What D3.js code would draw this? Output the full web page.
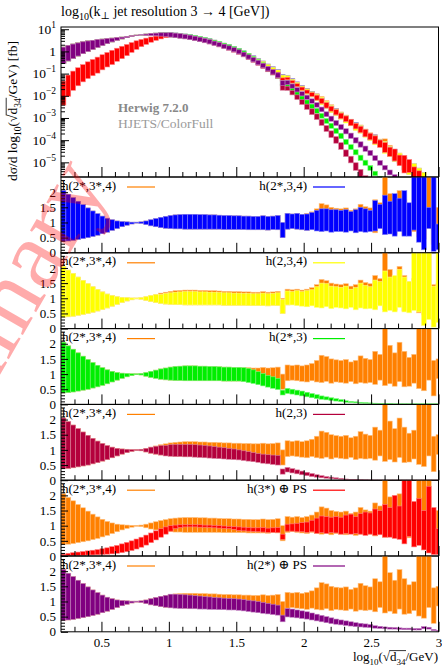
<!DOCTYPE html>
<html>
<head>
<meta charset="utf-8">
<script src="https://cdn.jsdelivr.net/npm/d3@7"></script>
<style>
  html, body { margin: 0; padding: 0; background: #fff; }
  svg { display: block; }
  text { font-family: "Liberation Serif", "DejaVu Serif", serif; fill: #000; }
</style>
</head>
<body>
<svg id="chart" width="442" height="667"></svg>
<script>
// ---- binning: 100 uniform bins from 0.2 to log10(6500), shown up to 3.0 ----
const binStart = 0.2;
const binWidth = 0.036129;
const nBins = 78;

// log10 of the central h(2*,3*,4) cross section per bin [fb]
const refLog = [-0.12,-0.02,0.07,0.15,0.23,0.30,0.36,0.42,0.47,0.52,
  0.56,0.60,0.63,0.66,0.70,0.73,0.75,0.76,0.77,0.77,
  0.77,0.76,0.75,0.73,0.71,0.68,0.65,0.61,0.57,0.52,
  0.47,0.41,0.35,0.28,0.21,0.13,0.04,-0.06,-0.17,-0.28,
  -0.40,-0.52,-0.65,-0.78,-0.91,-1.05,-1.19,-1.34,-1.49,-1.65,
  -1.79,-1.93,-2.07,-2.24,-2.42,-2.58,-2.74,-2.89,-3.04,-3.20,
  -3.36,-3.52,-3.68,-3.84,-4.00,-4.17,-4.34,-4.52,-4.70,-4.89,
  -5.08,-5.27,-5.46,-5.66,-5.86,-6.07,-6.28,-6.50];

// uncertainty bands (lower / upper edge), as ratio to the central h(2*,3*,4) value
const orangeHi = [2.05,1.93,1.82,1.70,1.59,1.48,1.38,1.29,1.21,1.14,
  1.09,1.05,1.03,1.02,1.01,1.01,1.02,1.05,1.09,1.13,
  1.17,1.20,1.23,1.25,1.26,1.27,1.27,1.27,1.26,1.26,
  1.25,1.25,1.24,1.23,1.23,1.22,1.22,1.21,1.21,1.20,
  1.20,1.22,1.20,1.21,1.23,1.00,1.30,1.28,1.30,1.27,
  1.30,1.35,1.45,1.62,1.58,1.50,1.47,1.45,1.48,1.40,
  1.45,1.60,1.52,1.48,1.75,1.65,2.50,1.95,1.70,2.05,
  1.75,1.55,1.65,2.50,2.50,2.50,1.45,1.50];
const orangeLo = [0.38,0.39,0.41,0.44,0.47,0.50,0.54,0.58,0.63,0.68,
  0.74,0.80,0.86,0.91,0.95,0.98,0.97,0.93,0.89,0.86,
  0.83,0.81,0.80,0.79,0.79,0.78,0.78,0.78,0.78,0.78,
  0.78,0.78,0.78,0.77,0.77,0.77,0.77,0.77,0.76,0.76,
  0.76,0.76,0.75,0.77,0.76,0.50,0.78,0.80,0.78,0.76,
  0.74,0.78,0.74,0.72,0.76,0.70,0.74,0.72,0.70,0.75,
  0.68,0.72,0.70,0.72,0.66,0.80,0.62,0.68,0.60,0.75,
  0.58,0.60,0.70,0.52,0.45,0.80,0.28,0.85];

const blueHi = [2.05,1.93,1.82,1.70,1.59,1.48,1.38,1.29,1.21,1.14,
  1.09,1.05,1.03,1.02,1.01,1.01,1.02,1.05,1.09,1.13,
  1.17,1.20,1.23,1.25,1.26,1.27,1.27,1.27,1.26,1.26,
  1.25,1.25,1.24,1.23,1.23,1.22,1.22,1.21,1.21,1.20,
  1.20,1.22,1.20,1.21,1.23,1.00,1.30,1.28,1.30,1.27,
  1.28,1.33,1.40,1.45,1.45,1.42,1.42,1.40,1.42,1.36,
  1.42,1.50,1.45,1.40,1.72,1.60,1.90,1.70,1.95,1.80,
  2.05,1.65,2.50,2.50,2.50,1.50,2.50,0.95];
const blueLo = [0.38,0.39,0.41,0.44,0.47,0.50,0.54,0.58,0.63,0.68,
  0.74,0.80,0.86,0.91,0.95,0.98,0.97,0.93,0.89,0.86,
  0.83,0.81,0.80,0.79,0.79,0.78,0.78,0.78,0.78,0.78,
  0.78,0.78,0.78,0.77,0.77,0.77,0.77,0.77,0.76,0.76,
  0.76,0.76,0.75,0.77,0.76,0.50,0.78,0.80,0.78,0.76,
  0.74,0.76,0.72,0.70,0.72,0.68,0.70,0.70,0.68,0.72,
  0.66,0.70,0.68,0.70,0.72,0.80,0.60,0.62,0.55,0.70,
  0.55,0.55,0.75,0.35,0.10,0.80,0.05,0.10];

const yellowHi = [2.05,1.93,1.82,1.70,1.59,1.48,1.38,1.29,1.21,1.14,
  1.09,1.05,1.03,1.02,1.01,1.01,1.02,1.05,1.09,1.12,
  1.13,1.16,1.18,1.20,1.21,1.22,1.22,1.22,1.21,1.21,
  1.20,1.20,1.19,1.18,1.18,1.17,1.17,1.16,1.16,1.15,
  1.15,1.17,1.15,1.16,1.18,0.96,1.24,1.22,1.25,1.22,
  1.25,1.28,1.38,1.50,1.48,1.40,1.38,1.36,1.40,1.30,
  1.35,1.50,1.42,1.38,1.60,1.55,1.90,1.70,1.75,1.95,
  1.70,1.55,2.50,2.50,2.50,2.50,1.40,2.50];
const yellowLo = [0.38,0.39,0.41,0.44,0.47,0.50,0.54,0.58,0.63,0.68,
  0.74,0.80,0.86,0.91,0.95,0.98,0.97,0.93,0.89,0.86,
  0.83,0.81,0.80,0.79,0.79,0.78,0.78,0.78,0.78,0.78,
  0.78,0.78,0.78,0.77,0.77,0.77,0.77,0.77,0.76,0.76,
  0.76,0.76,0.75,0.77,0.76,0.50,0.78,0.78,0.76,0.74,
  0.72,0.75,0.70,0.68,0.72,0.66,0.70,0.68,0.65,0.70,
  0.62,0.68,0.65,0.66,0.62,0.75,0.55,0.60,0.55,0.70,
  0.55,0.52,0.60,0.55,0.10,0.30,0.05,0.20];

const greenHi = [2.05,1.93,1.82,1.70,1.59,1.48,1.38,1.29,1.21,1.14,
  1.09,1.05,1.03,1.02,1.01,1.01,1.02,1.05,1.09,1.13,
  1.17,1.20,1.23,1.25,1.26,1.27,1.27,1.27,1.26,1.26,
  1.25,1.25,1.24,1.23,1.23,1.22,1.22,1.21,1.19,1.14,
  1.08,1.02,0.96,0.91,0.86,0.47,0.53,0.50,0.47,0.44,
  0.40,0.36,0.32,0.28,0.25,0.22,0.19,0.16,0.12,0.10,
  0.085,0.07,0.06,0.05,0.04,0.035,0.03,0.025,0.02,0.02,
  0.02,0.02,0.02,0.02,0.02,0.02,0.02,0.02];
const greenLo = [0.38,0.39,0.41,0.44,0.47,0.50,0.54,0.58,0.63,0.68,
  0.74,0.80,0.86,0.91,0.95,0.98,0.97,0.93,0.89,0.86,
  0.83,0.81,0.80,0.79,0.79,0.78,0.78,0.78,0.78,0.78,
  0.78,0.78,0.78,0.77,0.77,0.77,0.77,0.75,0.72,0.69,
  0.65,0.61,0.57,0.53,0.49,0.31,0.36,0.34,0.31,0.28,
  0.25,0.22,0.19,0.17,0.15,0.13,0.11,0.09,0.07,0.06,
  0.05,0.04,0.035,0.03,0.025,0.02,0.018,0.015,0.012,0.01,
  0.01,0.01,0.01,0.01,0.01,0.01,0.01,0.01];

const crimsonHi = [2.05,1.93,1.82,1.70,1.59,1.48,1.38,1.29,1.21,1.14,
  1.09,1.05,1.03,1.02,1.01,1.01,1.02,1.05,1.09,1.12,
  1.14,1.15,1.17,1.18,1.18,1.18,1.18,1.17,1.16,1.15,
  1.13,1.11,1.09,1.07,1.05,1.03,1.00,0.97,0.94,0.91,
  0.88,0.86,0.84,0.83,0.82,0.37,0.42,0.38,0.34,0.30,
  0.26,0.22,0.18,0.15,0.12,0.10,0.08,0.06,0.04,0.03,
  0.022,0.016,0.012,0.009,0.007,0.006,0.005,0.005,0.005,0.005,
  0.005,0.005,0.005,0.005,0.005,0.005,0.005,0.005];
const crimsonLo = [0.38,0.39,0.41,0.44,0.47,0.50,0.54,0.58,0.63,0.68,
  0.74,0.80,0.86,0.91,0.95,0.98,0.97,0.93,0.89,0.86,
  0.83,0.80,0.79,0.78,0.78,0.77,0.77,0.76,0.75,0.74,
  0.73,0.72,0.71,0.70,0.69,0.68,0.67,0.65,0.63,0.61,
  0.59,0.56,0.54,0.52,0.50,0.20,0.27,0.24,0.21,0.18,
  0.15,0.12,0.10,0.08,0.065,0.05,0.04,0.03,0.02,0.015,
  0.01,0.007,0.005,0.004,0.003,0.003,0.002,0.002,0.002,0.002,
  0.002,0.002,0.002,0.002,0.002,0.002,0.002,0.002];

const redHi = [0.06,0.09,0.11,0.13,0.15,0.17,0.19,0.21,0.24,0.27,
  0.31,0.35,0.40,0.45,0.50,0.56,0.62,0.69,0.76,0.83,
  0.90,0.96,1.00,1.02,1.03,1.03,1.03,1.03,1.03,1.02,
  1.02,1.01,1.00,0.99,0.98,0.97,0.96,0.95,0.94,0.93,
  0.93,0.94,0.92,0.93,0.94,0.72,1.05,1.06,1.08,1.10,
  1.12,1.18,1.25,1.32,1.30,1.28,1.30,1.28,1.35,1.38,
  1.30,1.40,1.45,1.42,1.55,1.50,1.70,1.60,2.00,1.65,
  2.50,2.50,1.80,1.90,1.50,2.30,1.60,0.90];
const redLo = [0.005,0.01,0.015,0.02,0.025,0.03,0.035,0.04,0.05,0.06,
  0.07,0.09,0.11,0.14,0.18,0.23,0.29,0.36,0.44,0.53,
  0.62,0.72,0.82,0.90,0.94,0.96,0.96,0.96,0.95,0.95,
  0.94,0.93,0.92,0.91,0.90,0.88,0.84,0.83,0.82,0.81,
  0.80,0.79,0.78,0.78,0.77,0.55,0.82,0.82,0.80,0.80,
  0.78,0.80,0.75,0.77,0.74,0.77,0.76,0.72,0.75,0.72,
  0.74,0.72,0.68,0.72,0.68,0.70,0.62,0.62,0.58,0.55,
  0.40,0.65,0.30,0.35,0.20,0.10,0.05,0.05];

const purpleHi = [2.05,1.93,1.82,1.70,1.59,1.48,1.38,1.29,1.21,1.14,
  1.09,1.05,1.03,1.02,1.01,1.01,1.02,1.05,1.09,1.13,
  1.17,1.20,1.24,1.24,1.23,1.22,1.21,1.19,1.18,1.16,
  1.15,1.13,1.12,1.11,1.10,1.09,1.08,1.06,1.04,1.02,
  1.00,0.97,0.94,0.91,0.88,0.55,0.77,0.75,0.72,0.69,
  0.66,0.62,0.58,0.54,0.50,0.46,0.42,0.39,0.36,0.33,
  0.30,0.28,0.26,0.24,0.20,0.18,0.16,0.15,0.14,0.13,
  0.12,0.12,0.11,0.11,0.17,0.15,0.08,0.05];
const purpleLo = [0.38,0.39,0.41,0.44,0.47,0.50,0.54,0.58,0.63,0.68,
  0.74,0.80,0.86,0.91,0.95,0.98,0.97,0.93,0.89,0.86,
  0.83,0.81,0.79,0.78,0.77,0.77,0.76,0.76,0.75,0.75,
  0.74,0.74,0.73,0.73,0.72,0.72,0.71,0.69,0.67,0.65,
  0.63,0.61,0.59,0.57,0.55,0.33,0.49,0.48,0.46,0.44,
  0.42,0.39,0.36,0.33,0.30,0.27,0.25,0.23,0.21,0.19,
  0.17,0.16,0.15,0.14,0.12,0.11,0.10,0.09,0.09,0.08,
  0.07,0.07,0.06,0.06,0.10,0.09,0.04,0.02];

const seriesNames = ["h(2*,3*,4)", "h(2*,3,4)", "h(2,3,4)", "h(2*,3)", "h(2,3)", "h(3*) \u2295 PS", "h(2*) \u2295 PS"];
const seriesLo = [orangeLo, blueLo, yellowLo, greenLo, crimsonLo, redLo, purpleLo];
const seriesHi = [orangeHi, blueHi, yellowHi, greenHi, crimsonHi, redHi, purpleHi];
const seriesColors = ["#ff8000", "#0000ff", "#ffff00", "#00ee00", "#b4003c", "#ff0000", "#800080"];

const xTickLabels = ["0.5", "1", "1.5", "2", "2.5", "3"];
const ratioTickLabels = ["0", "0.5", "1", "1.5", "2"];
const mainDecades = [-5, -4, -3, -2, -1, 0, 1];

// ---- layout ----
const svg = d3.select("#chart");
const X0 = 61, X1 = 438.5;
const mainTop = 27, mainBottom = 177;
const ratioH = 75.8;

const x = d3.scaleLinear().domain([0.2, 3.0]).range([X0, X1]);
const yMain = d3.scaleLog().domain([Math.pow(10, -5.66), Math.pow(10, 1.1)]).range([mainBottom, mainTop]);
const binEdges = d3.range(nBins + 1).map(i => binStart + i * binWidth);

const defs = svg.append("defs");
function clipFor(id, top, bottom) {
  defs.append("clipPath").attr("id", id).append("rect")
    .attr("x", X0).attr("y", top).attr("width", X1 - X0).attr("height", bottom - top);
  return "url(#" + id + ")";
}
function lighter(c) { return d3.interpolateRgb(c, "#ffffff")(0.5); }

function drawBars(g, yScale, lo, hi, color) {
  g.append("g").selectAll("rect").data(d3.range(nBins)).join("rect")
    .attr("x", i => x(binEdges[i]))
    .attr("width", i => x(binEdges[i + 1]) - x(binEdges[i]))
    .attr("y", i => yScale(hi(i)))
    .attr("height", i => Math.max(0.5, yScale(lo(i)) - yScale(hi(i))))
    .attr("fill", color)
    .attr("stroke", lighter(color))
    .attr("stroke-width", 0.6);
}

function xTicks(g, bottom, withLabels) {
  const minor = d3.range(3, 30).map(v => v / 10).filter(v => Math.abs(v * 2 - Math.round(v * 2)) > 1e-6);
  const major = [0.5, 1, 1.5, 2, 2.5, 3];
  g.append("g").attr("transform", `translate(0,${bottom})`)
    .call(d3.axisBottom(x).tickValues(minor).tickSize(-5).tickFormat(""))
    .call(a => a.select(".domain").remove());
  g.append("g").attr("transform", `translate(0,${bottom})`)
    .call(d3.axisBottom(x).tickValues(major).tickSize(-10).tickFormat((d, i) => withLabels ? xTickLabels[i] : ""))
    .call(a => a.select(".domain").remove())
    .call(a => a.selectAll("text").attr("font-size", 13).attr("y", 6).attr("dy", "0.71em")
      .attr("font-family", "Liberation Serif, serif"));
}

// ---- main panel ----
const mainG = svg.append("g");
const mainBars = mainG.append("g").attr("clip-path", clipFor("clip-main", mainTop, mainBottom));
seriesColors.forEach((col, s) => {
  drawBars(mainBars, yMain,
    i => Math.pow(10, refLog[i]) * Math.max(seriesLo[s][i], 1e-4),
    i => Math.pow(10, refLog[i]) * seriesHi[s][i], col);
});

// log axis ticks
const minorLog = [];
for (let d = -6; d <= 1; d++) for (let m = 2; m <= 9; m++) {
  const v = m * Math.pow(10, d);
  if (v > yMain.domain()[0] && v < yMain.domain()[1]) minorLog.push(v);
}
mainG.append("g").attr("transform", `translate(${X0},0)`)
  .call(d3.axisLeft(yMain).tickValues(minorLog).tickSize(-4).tickFormat(""))
  .call(a => a.select(".domain").remove());
mainG.append("g").attr("transform", `translate(${X0},0)`)
  .call(d3.axisLeft(yMain).tickValues(mainDecades.map(d => Math.pow(10, d))).tickSize(-8).tickFormat(""))
  .call(a => a.select(".domain").remove());
mainDecades.forEach(d => {
  const t = mainG.append("text").attr("x", 56).attr("y", yMain(Math.pow(10, d)) + 4.5)
    .attr("text-anchor", "end").attr("font-size", 13.5);
  if (d === 0) { t.text("1"); return; }
  t.append("tspan").text("10");
  t.append("tspan").attr("dy", -6).attr("font-size", 9.5).text(d < 0 ? "\u2212" + (-d) : String(d));
});
xTicks(mainG, mainBottom, false);
mainG.append("rect").attr("x", X0).attr("y", mainTop).attr("width", X1 - X0).attr("height", mainBottom - mainTop)
  .attr("fill", "none").attr("stroke", "#000").attr("stroke-width", 1);

// generator text
mainG.append("text").attr("x", 118).attr("y", 112).attr("font-size", 13).attr("font-weight", "bold")
  .style("fill", "#888888").text("Herwig 7.2.0");
mainG.append("text").attr("x", 118).attr("y", 128).attr("font-size", 13.5)
  .style("fill", "#9a9a9a").text("HJETS/ColorFull");

// title
const title = svg.append("text").attr("x", X0).attr("y", 16).attr("font-size", 14);
title.append("tspan").text("log");
title.append("tspan").attr("dy", 4).attr("font-size", 10).text("10");
title.append("tspan").attr("dy", -4).text("(k");
title.append("tspan").attr("dy", 3).attr("font-size", 10).text("\u22a5");
title.append("tspan").attr("dy", -3).text(" jet resolution 3 \u2192 4 [GeV])");

// overline over the radicand d34, from the radical sign to the end of the subscript
function overline(g, node, radIdx, endIdx, fontSize) {
  const rad = node.getExtentOfChar(radIdx);
  const p1 = node.getEndPositionOfChar(endIdx);
  const yTop = node.getStartPositionOfChar(radIdx + 1).y - fontSize * 0.80;
  g.append("line").attr("x1", rad.x + rad.width - 0.8).attr("x2", p1.x + 0.5)
    .attr("y1", yTop).attr("y2", yTop).attr("stroke", "#000").attr("stroke-width", 0.8);
}

// y label: d sigma / d log10(sqrt(d34)/GeV) [fb]
const ylG = svg.append("g").attr("transform", "translate(17,111) rotate(-90)");
const yl = ylG.append("text").attr("text-anchor", "middle").attr("font-size", 13.5);
yl.append("tspan").text("d\u03c3/d log");
yl.append("tspan").attr("dy", 4).attr("font-size", 9.5).text("10");
yl.append("tspan").attr("dy", -4).text("(\u221a");
yl.append("tspan").text("d");
yl.append("tspan").attr("dy", 4).attr("font-size", 9.5).text("34");
yl.append("tspan").attr("dy", -4).text("/GeV) [fb]");
overline(ylG, yl.node(), 11, 14, 13.5);

// ---- ratio panels ----
for (let k = 1; k < seriesColors.length; k++) {
  const top = mainBottom + (k - 1) * ratioH;
  const bottom = top + ratioH;
  const yR = d3.scaleLinear().domain([0, 2.5]).range([bottom, top]);
  const g = svg.append("g");
  const bars = g.append("g").attr("clip-path", clipFor("clip-r" + k, top, bottom));
  drawBars(bars, yR, i => orangeLo[i], i => orangeHi[i], seriesColors[0]);
  drawBars(bars, yR, i => seriesLo[k][i], i => seriesHi[k][i], seriesColors[k]);

  const minorR = d3.range(1, 25).map(v => v / 10).filter(v => Math.abs(v * 2 - Math.round(v * 2)) > 1e-6);
  g.append("g").attr("transform", `translate(${X0},0)`)
    .call(d3.axisLeft(yR).tickValues(minorR).tickSize(-4).tickFormat(""))
    .call(a => a.select(".domain").remove());
  g.append("g").attr("transform", `translate(${X0},0)`)
    .call(d3.axisLeft(yR).tickValues([0, 0.5, 1, 1.5, 2]).tickSize(-7).tickFormat((d, i) => ratioTickLabels[i]))
    .call(a => a.select(".domain").remove())
    .call(a => a.selectAll("text").attr("font-size", 13).attr("x", -5)
      .attr("font-family", "Liberation Serif, serif"));
  xTicks(g, bottom, k === seriesColors.length - 1);
  g.append("rect").attr("x", X0).attr("y", top).attr("width", X1 - X0).attr("height", ratioH)
    .attr("fill", "none").attr("stroke", "#000").attr("stroke-width", 1);

  // legend
  g.append("text").attr("x", 62).attr("y", top + 12.5).attr("font-size", 13).text(seriesNames[0]);
  g.append("line").attr("x1", 127).attr("x2", 155).attr("y1", top + 10).attr("y2", top + 10)
    .attr("stroke", seriesColors[0]).attr("stroke-width", 1.2);
  g.append("text").attr("x", 307).attr("y", top + 12.5).attr("font-size", 13).attr("text-anchor", "end").text(seriesNames[k]);
  g.append("line").attr("x1", 313).attr("x2", 345).attr("y1", top + 10).attr("y2", top + 10)
    .attr("stroke", seriesColors[k]).attr("stroke-width", 1.2);
}

// x axis title
const xtG = svg.append("g");
const xt = xtG.append("text").attr("x", 438).attr("y", 661).attr("text-anchor", "end").attr("font-size", 13);
xt.append("tspan").text("log");
xt.append("tspan").attr("dy", 4).attr("font-size", 9).text("10");
xt.append("tspan").attr("dy", -4).text("(\u221a");
xt.append("tspan").text("d");
xt.append("tspan").attr("dy", 4).attr("font-size", 9).text("34");
xt.append("tspan").attr("dy", -4).text("/GeV)");
overline(xtG, xt.node(), 6, 9, 13);

// watermark, placed so that its final letter sits at the upper end of the left margin
const wm = svg.append("text").attr("font-size", 100).attr("font-family", "DejaVu Sans, sans-serif")
  .style("fill", "#ff0000").attr("fill-opacity", 0.33).text("Preliminary");
{
  const ext = wm.node().getExtentOfChar(10);
  const cx = ext.x + ext.width / 2, cy = ext.y + ext.height / 2;
  const th = -60 * Math.PI / 180;
  const rx = cx * Math.cos(th) - cy * Math.sin(th);
  const ry = cx * Math.sin(th) + cy * Math.cos(th);
  wm.attr("transform", `translate(${69 - rx},${188 - ry}) rotate(-60)`);
}
</script>
</body>
</html>
